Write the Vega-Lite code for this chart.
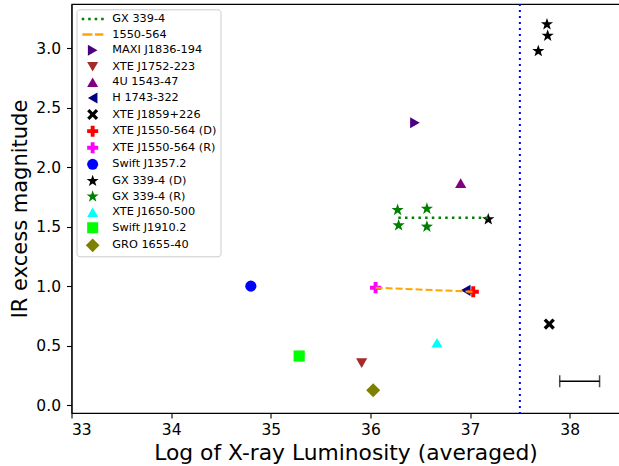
{
  "$schema": "https://vega.github.io/schema/vega-lite/v6.json",
  "width": 548,
  "height": 409,
  "autosize": "none",
  "padding": {"left": 71.5, "top": 4, "right": 0, "bottom": 53},
  "background": "white",
  "config": {
    "font": "DejaVu Sans",
    "view": {"stroke": "black", "strokeWidth": 1.1},
    "axis": {
      "grid": false,
      "domainColor": "black",
      "domainWidth": 1.1,
      "tickColor": "black",
      "tickWidth": 1.1,
      "tickSize": 5,
      "labelFont": "DejaVu Sans",
      "labelFontSize": 15.5,
      "labelColor": "black",
      "titleFont": "DejaVu Sans",
      "titleFontWeight": "normal",
      "titleColor": "black"
    }
  },
  "datasets": {
    "points": [
      {"source": "MAXI J1836-194", "lum": 36.447, "ir": 2.374},
      {"source": "XTE J1752-223", "lum": 35.912, "ir": 0.353},
      {"source": "4U 1543-47", "lum": 36.906, "ir": 1.867},
      {"source": "H 1743-322", "lum": 36.956, "ir": 0.965},
      {"source": "XTE J1859+226", "lum": 37.795, "ir": 0.681},
      {"source": "XTE J1550-564 (D)", "lum": 37.032, "ir": 0.953},
      {"source": "XTE J1550-564 (R)", "lum": 36.052, "ir": 0.987},
      {"source": "Swift J1357.2", "lum": 34.8, "ir": 1.0},
      {"source": "GX 339-4 (D)", "lum": 37.183, "ir": 1.562},
      {"source": "GX 339-4 (D)", "lum": 37.772, "ir": 3.202},
      {"source": "GX 339-4 (D)", "lum": 37.779, "ir": 3.106},
      {"source": "GX 339-4 (D)", "lum": 37.685, "ir": 2.977},
      {"source": "GX 339-4 (R)", "lum": 36.273, "ir": 1.64},
      {"source": "GX 339-4 (R)", "lum": 36.567, "ir": 1.651},
      {"source": "GX 339-4 (R)", "lum": 36.283, "ir": 1.511},
      {"source": "GX 339-4 (R)", "lum": 36.567, "ir": 1.5},
      {"source": "XTE J1650-500", "lum": 36.668, "ir": 0.524},
      {"source": "Swift J1910.2", "lum": 35.285, "ir": 0.412},
      {"source": "GRO 1655-40", "lum": 36.028, "ir": 0.124}
    ],
    "gxline": [
      {"lum": 36.28, "ir": 1.575},
      {"lum": 37.18, "ir": 1.575}
    ],
    "line1550": [
      {"lum": 36.052, "ir": 0.987},
      {"lum": 37.032, "ir": 0.953}
    ],
    "errbar": [
      {"lo": 37.9, "hi": 38.3, "ir": 0.2}
    ]
  },
  "layer": [
    {
      "data": {"name": "points"},
      "mark": {"type": "point", "filled": true, "opacity": 1, "size": 125, "strokeWidth": 0},
      "encoding": {
        "x": {
          "field": "lum", "type": "quantitative",
          "scale": {"domain": [33, 38.5], "nice": false, "zero": false},
          "axis": {"values": [33, 34, 35, 36, 37, 38], "format": "d", "title": "Log of X-ray Luminosity (averaged)", "titleFontSize": 21.8, "titlePadding": 5, "labelPadding": 4}
        },
        "y": {
          "field": "ir", "type": "quantitative",
          "scale": {"domain": [-0.067, 3.373], "nice": false, "zero": false},
          "axis": {"values": [0, 0.5, 1, 1.5, 2, 2.5, 3], "format": ".1f", "title": "IR excess magnitude", "titleFontSize": 21, "titlePadding": 5, "labelPadding": 6}
        },
        "color": {
          "field": "source", "type": "nominal",
          "scale": {
            "domain": ["GX 339-4", "1550-564", "MAXI J1836-194", "XTE J1752-223", "4U 1543-47", "H 1743-322", "XTE J1859+226", "XTE J1550-564 (D)", "XTE J1550-564 (R)", "Swift J1357.2", "GX 339-4 (D)", "GX 339-4 (R)", "XTE J1650-500", "Swift J1910.2", "GRO 1655-40"],
            "range": ["green", "orange", "indigo", "brown", "purple", "navy", "black", "red", "magenta", "blue", "black", "green", "cyan", "lime", "olive"]
          },
          "legend": {
            "title": null,
            "orient": "none",
            "legendX": 5,
            "legendY": 5.3,
            "direction": "vertical",
            "columns": 1,
            "labelFont": "DejaVu Sans",
            "labelFontSize": 11.3,
            "labelColor": "black",
            "symbolSize": 121,
            "symbolStrokeWidth": 0,
            "symbolOpacity": 1,
            "rowPadding": 3.6,
            "padding": 4,
            "symbolOffset": 6.5,
            "labelOffset": 14,
            "fillColor": "rgba(255,255,255,0.8)",
            "strokeColor": "#cccccc",
            "cornerRadius": 3
          }
        },
        "shape": {
          "field": "source", "type": "nominal",
          "scale": {
            "domain": ["GX 339-4", "1550-564", "MAXI J1836-194", "XTE J1752-223", "4U 1543-47", "H 1743-322", "XTE J1859+226", "XTE J1550-564 (D)", "XTE J1550-564 (R)", "Swift J1357.2", "GX 339-4 (D)", "GX 339-4 (R)", "XTE J1650-500", "Swift J1910.2", "GRO 1655-40"],
            "range": [
              "M-1.99,-0.23H-1.53V0.23H-1.99Z M-0.81,-0.23H-0.35V0.23H-0.81Z M0.37,-0.23H0.83V0.23H0.37Z M1.55,-0.23H2.01V0.23H1.55Z",
              "M-1.87,-0.23H-0.05V0.23H-1.87Z M0.42,-0.23H1.95V0.23H0.42Z",
              "triangle-right",
              "triangle-down",
              "triangle-up",
              "triangle-left",
              "M0,-0.42L0.58,-1L1,-0.58L0.42,0L1,0.58L0.58,1L0,0.42L-0.58,1L-1,0.58L-0.42,0L-1,-0.58L-0.58,-1Z",
              "M-0.35,-1H0.35V-0.35H1V0.35H0.35V1H-0.35V0.35H-1V-0.35H-0.35Z",
              "M-0.35,-1H0.35V-0.35H1V0.35H0.35V1H-0.35V0.35H-1V-0.35H-0.35Z",
              "circle",
              "M0,-1.15L0.27,-0.37L1.09,-0.36L0.44,0.14L0.68,0.93L0,0.46L-0.68,0.93L-0.44,0.14L-1.09,-0.36L-0.27,-0.37Z",
              "M0,-1.15L0.27,-0.37L1.09,-0.36L0.44,0.14L0.68,0.93L0,0.46L-0.68,0.93L-0.44,0.14L-1.09,-0.36L-0.27,-0.37Z",
              "triangle-up",
              "square",
              "M0,-1.25L1.25,0L0,1.25L-1.25,0Z"
            ]
          }
        }
      }
    },
    {
      "data": {"values": [{"v": 37.5}]},
      "mark": {"type": "rule", "color": "blue", "strokeWidth": 2, "strokeDash": [2, 4]},
      "encoding": {"x": {"field": "v", "type": "quantitative"}}
    },
    {
      "data": {"name": "gxline"},
      "mark": {"type": "line", "color": "green", "strokeWidth": 2.5, "strokeDash": [2.5, 4.2]},
      "encoding": {
        "x": {"field": "lum", "type": "quantitative"},
        "y": {"field": "ir", "type": "quantitative"}
      }
    },
    {
      "data": {"name": "line1550"},
      "mark": {"type": "line", "color": "orange", "strokeWidth": 2, "strokeDash": [7, 3]},
      "encoding": {
        "x": {"field": "lum", "type": "quantitative"},
        "y": {"field": "ir", "type": "quantitative"}
      }
    },
    {
      "data": {"name": "errbar"},
      "mark": {"type": "rule", "color": "black", "strokeWidth": 1.5},
      "encoding": {
        "x": {"field": "lo", "type": "quantitative"},
        "x2": {"field": "hi"},
        "y": {"field": "ir", "type": "quantitative"}
      }
    },
    {
      "data": {"name": "errbar"},
      "mark": {"type": "tick", "color": "black", "orient": "vertical", "size": 12, "thickness": 1.5},
      "encoding": {
        "x": {"field": "lo", "type": "quantitative"},
        "y": {"field": "ir", "type": "quantitative"}
      }
    },
    {
      "data": {"name": "errbar"},
      "mark": {"type": "tick", "color": "black", "orient": "vertical", "size": 12, "thickness": 1.5},
      "encoding": {
        "x": {"field": "hi", "type": "quantitative"},
        "y": {"field": "ir", "type": "quantitative"}
      }
    }
  ]
}
